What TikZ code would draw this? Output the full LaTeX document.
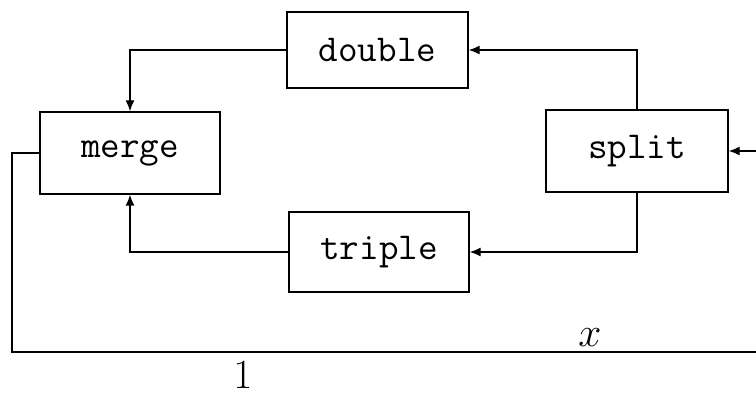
\documentclass[tikz,border=0pt]{standalone}
\usepackage{fontspec}
\usetikzlibrary{arrows.meta}
\begin{document}
\begin{tikzpicture}[x=0.5pt,y=-0.5pt,
  blk/.style={draw,line width=0.7pt,inner sep=0pt,font=\fontsize{19}{23}\selectfont\ttfamily},
  wire/.style={line width=0.7pt},
  arr/.style={wire,-{Latex[length=5.5pt,width=4.5pt]}},
  lbl/.style={inner sep=0pt,font=\fontsize{20}{24}\selectfont}]
\useasboundingbox (0,0) rectangle (756,395);
\clip (0,0) rectangle (756,395);
\node[blk,minimum width=90.5pt,minimum height=38pt] (dbl) at (377.5,50) {double};
\node[blk,minimum width=90pt,minimum height=41pt] (mrg) at (130,153) {merge};
\node[blk,minimum width=91pt,minimum height=41pt] (spl) at (637,151) {split};
\node[blk,minimum width=90pt,minimum height=40pt] (trp) at (379,252) {triple};
\coordinate (loopA) at (12,153);
\coordinate (loopB) at (12,352);
\coordinate (loopC) at (780,352);
\coordinate (loopD) at (780,151);
\draw[arr] (dbl.west) -| (mrg.north);
\draw[arr] (trp.west) -| (mrg.south);
\draw[arr] (spl.north) |- (dbl.east);
\draw[arr] (spl.south) |- (trp.east);
\draw[arr] (mrg.west) -- (loopA) -- (loopB) -- (loopC) -- (loopD) -- (spl.east);
\node[lbl] (xl) at (590,338) {$x$};
\node[lbl] (one) at (243,375) {$1$};
\end{tikzpicture}
\end{document}
